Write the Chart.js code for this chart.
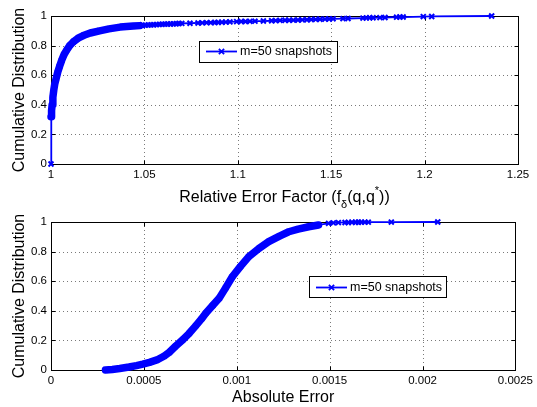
<!DOCTYPE html>
<html><head><meta charset="utf-8">
<script src="https://cdn.jsdelivr.net/npm/chart.js@4/dist/chart.umd.min.js"></script>
<style>
html,body{margin:0;padding:0;background:#fff;}
#wrap{position:relative;width:537px;height:407px;overflow:hidden;background:#fff;}
.box{position:absolute;left:0;width:537px;}
</style></head><body>
<div id="wrap">
<div class="box" style="top:206px;height:201px"><canvas id="c2" width="537" height="201"></canvas></div>
<div class="box" style="top:0;height:215px"><canvas id="c1" width="537" height="215"></canvas></div>
</div>
<script>
// ---- data ----
const seriesLabel = 'm=50 snapshots';
const yAxisLabel = 'Cumulative Distribution';
const yTicks = [0, 0.2, 0.4, 0.6, 0.8, 1];
const relErrTicks = [1, 1.05, 1.1, 1.15, 1.2, 1.25];
const absErrTicks = [0, 0.0005, 0.001, 0.0015, 0.002, 0.0025];

const relErrX = [1.0000, 1.0000, 1.0003, 1.0006, 1.0010, 1.0015, 1.0020, 1.0028, 1.0036, 1.0046,
  1.0057, 1.0070, 1.0084, 1.0100, 1.0120, 1.0145, 1.0173, 1.0210, 1.0260, 1.0310,
  1.0370, 1.0440, 1.0476, 1.0490, 1.0505, 1.0520, 1.0535, 1.0550, 1.0565, 1.0580,
  1.0595, 1.0610, 1.0625, 1.0640, 1.0655, 1.0670, 1.0685, 1.0700,
  1.0744, 1.0787, 1.0810, 1.0833, 1.0855, 1.0878, 1.0894, 1.0915, 1.0936, 1.0958,
  1.0994, 1.1018, 1.1041, 1.1065, 1.1092, 1.1137, 1.1181, 1.1203, 1.1226,
  1.1253, 1.1275, 1.1297, 1.1322, 1.1345, 1.1370, 1.1393, 1.1417, 1.1440,
  1.1467, 1.1489, 1.1510, 1.1563, 1.1590, 1.1670, 1.1688, 1.1706, 1.1724,
  1.1761, 1.1788, 1.1850, 1.1868, 1.1885, 1.1993, 1.2038, 1.2359];
const relErrY = [0.000, 0.320, 0.360, 0.400, 0.450, 0.500, 0.540, 0.580, 0.620, 0.660,
  0.700, 0.740, 0.770, 0.800, 0.826, 0.850, 0.868, 0.885, 0.900, 0.913,
  0.925, 0.932, 0.935, 0.936, 0.938, 0.939, 0.940, 0.941, 0.942, 0.943,
  0.944, 0.945, 0.946, 0.946, 0.947, 0.948, 0.949, 0.950,
  0.951, 0.953, 0.954, 0.955, 0.955, 0.956, 0.957, 0.958, 0.959, 0.960,
  0.962, 0.963, 0.963, 0.964, 0.965, 0.966, 0.968, 0.969, 0.970,
  0.971, 0.971, 0.972, 0.973, 0.974, 0.975, 0.976, 0.977, 0.978,
  0.979, 0.980, 0.981, 0.982, 0.983, 0.986, 0.987, 0.988, 0.988,
  0.989, 0.990, 0.992, 0.993, 0.993, 0.996, 0.997, 1.000];
const relErrDenseEnd = 1.048;

const absErrX = [0.000293, 0.000330, 0.000370, 0.000420, 0.000460, 0.000494, 0.000530, 0.000570,
  0.000610, 0.000637, 0.000670, 0.000710, 0.000744, 0.000780, 0.000810, 0.000833,
  0.000870, 0.000905, 0.000940, 0.000976, 0.001020, 0.001065, 0.001120, 0.001172,
  0.001230, 0.001280, 0.001330, 0.001387, 0.001440, 0.001494, 0.001520, 0.001547,
  0.001583, 0.001600, 0.001620, 0.001640, 0.001655, 0.001670, 0.001690, 0.001708,
  0.001832, 0.002082];
const absErrY = [0.000, 0.004, 0.010, 0.020, 0.030, 0.040, 0.052, 0.068,
  0.095, 0.120, 0.160, 0.205, 0.248, 0.300, 0.345, 0.383,
  0.435, 0.484, 0.555, 0.630, 0.700, 0.766, 0.822, 0.867,
  0.905, 0.934, 0.952, 0.968, 0.980, 0.991, 0.994, 0.996,
  0.997, 0.997, 0.998, 0.998, 0.998, 0.999, 0.999, 0.999,
  0.9995, 1.000];
const absErrDenseEnd = 0.00149;

// ---- rendering ----
const FONT = "'Liberation Sans', Arial, Helvetica, sans-serif";
Chart.defaults.font.family = FONT;
const BLUE = '#0000ff';

function pts(xs, ys) { return xs.map((x, i) => ({x: x, y: ys[i]})); }

const frame = {
  id: 'frame',
  beforeDatasetsDraw(chart, args, o) {
    const {ctx, chartArea: a, scales: {x, y}} = chart;
    ctx.save();
    ctx.lineWidth = 1;
    ctx.strokeStyle = '#7a7a7a';
    ctx.setLineDash([1, 3]);
    x.ticks.forEach(t => {
      const px = Math.round(x.getPixelForValue(t.value)) + 0.5;
      if (px > a.left + 2 && px < a.right - 2) { ctx.beginPath(); ctx.moveTo(px, a.top); ctx.lineTo(px, a.bottom); ctx.stroke(); }
    });
    y.ticks.forEach(t => {
      const py = Math.round(y.getPixelForValue(t.value)) + 0.5;
      if (py > a.top + 2 && py < a.bottom - 2) { ctx.beginPath(); ctx.moveTo(a.left, py); ctx.lineTo(a.right, py); ctx.stroke(); }
    });
    ctx.setLineDash([]);
    ctx.strokeStyle = '#000';
    const L = Math.round(a.left) + 0.5, R = Math.round(a.right) + 0.5, T = Math.round(a.top) + 0.5, B = Math.round(a.bottom) + 0.5;
    ctx.strokeRect(L, T, R - L, B - T);
    const tl = 4;
    x.ticks.forEach(t => {
      const px = Math.round(x.getPixelForValue(t.value)) + 0.5;
      ctx.beginPath(); ctx.moveTo(px, B); ctx.lineTo(px, B - tl); ctx.moveTo(px, T); ctx.lineTo(px, T + tl); ctx.stroke();
    });
    y.ticks.forEach(t => {
      const py = Math.round(y.getPixelForValue(t.value)) + 0.5;
      ctx.beginPath(); ctx.moveTo(L, py); ctx.lineTo(L + tl, py); ctx.moveTo(R, py); ctx.lineTo(R - tl, py); ctx.stroke();
    });
    ctx.restore();
  },
  afterDraw(chart, args, o) {
    const {ctx, chartArea: a} = chart;
    ctx.save();
    ctx.fillStyle = '#000';
    // y title
    ctx.save();
    ctx.translate(o.yTitleX, (a.top + a.bottom) / 2);
    ctx.rotate(-Math.PI / 2);
    ctx.font = '16px ' + FONT;
    ctx.textAlign = 'center';
    ctx.textBaseline = 'alphabetic';
    ctx.fillText(yAxisLabel, 0, 0);
    ctx.restore();
    // x title (pieces with sub/superscripts)
    const pieces = o.xTitle;
    let total = 0;
    pieces.forEach(p => { ctx.font = p.size + 'px ' + FONT; p.w = ctx.measureText(p.text).width; total += p.w; });
    let cx = (a.left + a.right) / 2 - total / 2;
    ctx.textAlign = 'left';
    ctx.textBaseline = 'alphabetic';
    pieces.forEach(p => { ctx.font = p.size + 'px ' + FONT; ctx.fillText(p.text, cx, o.xTitleY + (p.dy || 0)); cx += p.w; });
    // legend
    const lx = a.left + o.legend.dx, ly = a.top + o.legend.dy, lw = o.legend.w, lh = o.legend.h;
    ctx.fillStyle = '#fff';
    ctx.fillRect(lx, ly, lw, lh);
    ctx.strokeStyle = '#000'; ctx.lineWidth = 1;
    ctx.strokeRect(Math.round(lx) + 0.5, Math.round(ly) + 0.5, Math.round(lw), Math.round(lh));
    const my = Math.round(ly + lh / 2) + 0.5;
    ctx.strokeStyle = BLUE; ctx.lineWidth = 1.8;
    ctx.beginPath(); ctx.moveTo(lx + 7, my); ctx.lineTo(lx + 38, my); ctx.stroke();
    const mx = lx + 22.5, r = 2.6;
    ctx.lineWidth = 1.8;
    ctx.beginPath(); ctx.moveTo(mx - r, my - r); ctx.lineTo(mx + r, my + r); ctx.moveTo(mx - r, my + r); ctx.lineTo(mx + r, my - r); ctx.stroke();
    ctx.fillStyle = '#000';
    ctx.font = '12.5px ' + FONT;
    ctx.textBaseline = 'middle';
    ctx.fillText(chart.data.datasets[1].label, lx + 41, my + 0.5);
    ctx.restore();
  }
};

function makeChart(id, xs, ys, denseEnd, xMin, xMax, xTicks, xAxisH, padBottom, opts) {
  const all = pts(xs, ys);
  const dense = all.filter(p => p.x <= denseEnd && p.y > (opts.bandFromFirst ? -1 : 0));
  return new Chart(document.getElementById(id), {
    type: 'line',
    data: {
      datasets: [
        { label: '', data: dense,
          borderColor: BLUE, borderWidth: 7.5, pointRadius: 0, tension: 0, fill: false,
          borderCapStyle: 'round', borderJoinStyle: 'round', clip: false },
        { label: seriesLabel, data: all, borderColor: BLUE, backgroundColor: BLUE, borderWidth: 1.8,
          pointStyle: 'crossRot', pointRadius: 3.5, pointBorderWidth: 2, pointBorderColor: BLUE,
          tension: 0, fill: false, clip: false }
      ]
    },
    options: {
      responsive: false, animation: false, events: [],
      layout: { padding: { top: 16, right: 19, left: 0, bottom: padBottom } },
      plugins: { legend: { display: false }, tooltip: { enabled: false }, frame: opts },
      scales: {
        x: { type: 'linear', min: xMin, max: xMax,
          afterBuildTicks: s => { s.ticks = xTicks.map(v => ({value: v})); },
          afterFit: s => { s.height = xAxisH; },
          grid: { display: false, drawTicks: false }, border: { display: false },
          ticks: { padding: 4, maxRotation: 0, autoSkip: false, color: '#000', font: { size: 11.5 }, callback: v => String(v) } },
        y: { type: 'linear', min: 0, max: 1,
          afterBuildTicks: s => { s.ticks = yTicks.map(v => ({value: v})); },
          afterFit: s => { s.width = 51; },
          grid: { display: false, drawTicks: false }, border: { display: false },
          ticks: { padding: 4, autoSkip: false, color: '#000', font: { size: 11.5 }, callback: v => String(v) } }
      }
    },
    plugins: [frame]
  });
}

makeChart('c1', relErrX, relErrY, relErrDenseEnd, 1, 1.25, relErrTicks, 39, 12, {
  bandFromFirst: false,
  yTitleX: 24,
  xTitleY: 201.5,
  xTitle: [
    {text: 'Relative Error Factor (f', size: 16},
    {text: 'δ', size: 11, dy: 6},
    {text: '(q,q', size: 16},
    {text: '*', size: 11, dy: -8},
    {text: '))', size: 16}
  ],
  legend: {dx: 148, dy: 25, w: 138, h: 20.5}
});

makeChart('c2', absErrX, absErrY, absErrDenseEnd, 0, 0.0025, absErrTicks, 37, 0, {
  bandFromFirst: true,
  yTitleX: 24,
  xTitleY: 195.5,
  xTitle: [ {text: 'Absolute Error', size: 16} ],
  legend: {dx: 258, dy: 54, w: 137, h: 21}
});
</script>
</body></html>
